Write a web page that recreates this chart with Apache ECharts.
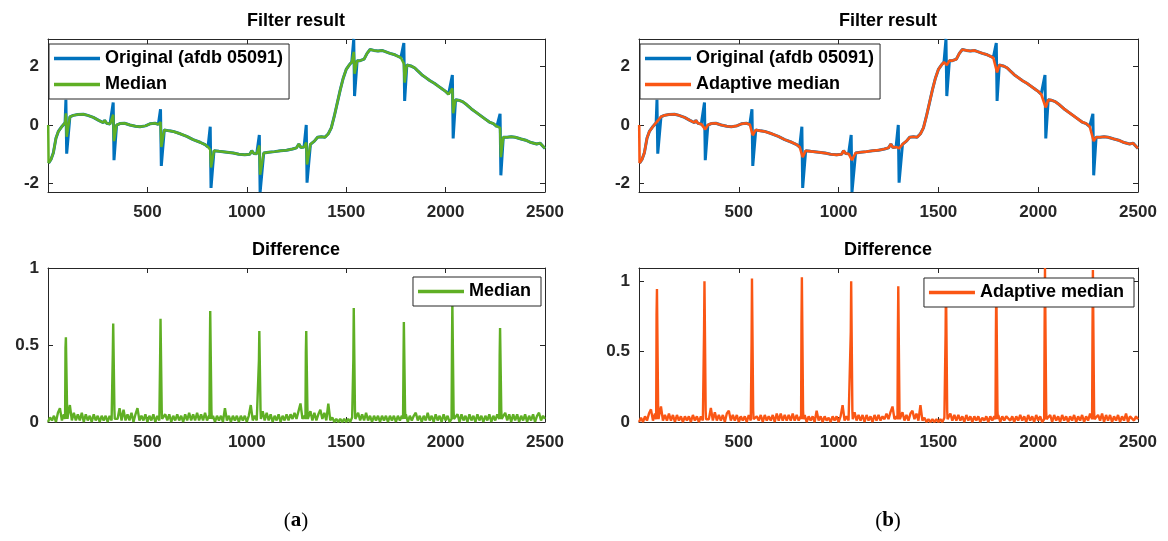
<!DOCTYPE html>
<html><head><meta charset="utf-8">
<script src="https://cdn.jsdelivr.net/npm/echarts@6/dist/echarts.min.js"></script>
<style>html,body{margin:0;padding:0;background:#fff}#c{width:1168px;height:541px}</style>
</head><body><div id="c"></div>
<script>
// ---------- DATA ----------
const xTicks = [500, 1000, 1500, 2000, 2500];
const yTicksTop = [-2, 0, 2];
const yTicksDiff = [0, 0.5, 1];

// R-peak sample positions
const rPeaks = [92, 330, 568, 818, 1065, 1301, 1540, 1792, 2036, 2276];

// baseline trend of the ECG (sample index, value)
const trendX = [3, 15, 27, 40, 52, 70, 86, 110, 127, 150, 178, 200, 228, 255, 278, 285, 295, 312,
  345, 362, 385, 412, 440, 463, 490, 513, 538, 555,
  585, 610, 630, 665, 698, 730, 765, 790, 805,
  835, 860, 900, 932, 960, 990, 1015, 1025, 1035, 1050,
  1085, 1110, 1140, 1170, 1200, 1230, 1250, 1262, 1272, 1288,
  1320, 1340, 1356, 1375, 1393, 1410, 1425, 1440, 1455, 1470, 1485, 1500, 1515, 1528,
  1555, 1570, 1590, 1605, 1620, 1640, 1660, 1680, 1700, 1720, 1745, 1760, 1775,
  1805, 1825, 1845, 1860, 1880, 1900, 1920, 1945, 1965, 1985, 2000, 2015,
  2050, 2065, 2085, 2105, 2130, 2150, 2176, 2200, 2220, 2240, 2258,
  2290, 2310, 2330, 2350, 2380, 2403, 2430, 2458, 2475, 2485, 2500];
const trendY = [-1.30, -1.18, -0.95, -0.45, -0.22, -0.05, 0.08, 0.28, 0.33, 0.36, 0.37, 0.33, 0.26, 0.16, 0.08, 0.16, 0.06, 0.03,
  0.00, 0.05, 0.06, 0.00, -0.04, -0.06, -0.03, 0.04, 0.06, 0.02,
  -0.17, -0.20, -0.22, -0.30, -0.39, -0.50, -0.59, -0.67, -0.75,
  -0.88, -0.90, -0.93, -0.96, -1.00, -1.02, -1.00, -0.88, -0.97, -0.98,
  -0.96, -0.93, -0.91, -0.88, -0.86, -0.82, -0.78, -0.65, -0.77, -0.75,
  -0.66, -0.55, -0.42, -0.40, -0.42, -0.30, -0.10, 0.30, 0.75, 1.20, 1.60, 1.90, 2.05, 2.15,
  2.20, 2.20, 2.25, 2.45, 2.58, 2.55, 2.53, 2.55, 2.50, 2.45, 2.40, 2.35, 2.30,
  2.05, 2.02, 1.95, 1.85, 1.72, 1.62, 1.52, 1.42, 1.32, 1.22, 1.15, 1.05,
  0.86, 0.85, 0.80, 0.70, 0.55, 0.45, 0.32, 0.20, 0.10, 0.05, -0.05,
  -0.42, -0.42, -0.40, -0.42, -0.48, -0.52, -0.60, -0.65, -0.62, -0.65, -0.80];
const filterStartY = 0.0; // filtered outputs start at 0 on sample 1

// spike extremes at each R-peak
const origHigh = [0.86, 0.77, 0.54, -0.06, -0.34, 0.00, 2.94, 2.80, 1.71, 0.38];
const origLow  = [-0.98, -1.20, -1.40, -2.15, -2.29, -1.97, 0.99, 0.82, -0.46, -1.72];
const medHigh  = [0.40, 0.35, 0.10, -0.85, -0.70, -0.60, 2.50, 2.10, 1.25, -0.10];
const medLow   = [-0.40, -0.55, -0.75, -1.45, -1.70, -1.35, 1.75, 1.45, 0.40, -1.10];
const adaLow   = [0.02, -0.15, -0.35, -1.10, -1.20, -0.80, 2.05, 1.80, 0.60, -0.55];

// difference signals: background noise every 10 samples (0..2500)
const diffMedNoise = [
  0.00,0.03,0.01,0.04,0.00,0.06,0.09,0.01,0.05,0.01,
  0.04,0.11,0.01,0.06,0.01,0.05,0.01,0.06,0.00,0.05,
  0.01,0.04,0.00,0.05,0.01,0.04,0.00,0.04,0.01,0.04,
  0.00,0.04,0.01,0.04,0.01,0.02,0.09,0.01,0.08,0.01,
  0.05,0.01,0.06,0.00,0.05,0.09,0.01,0.04,0.01,0.05,
  0.00,0.04,0.01,0.05,0.00,0.04,0.01,0.05,0.01,0.05,
  0.01,0.05,0.00,0.04,0.01,0.05,0.01,0.04,0.00,0.05,
  0.01,0.06,0.01,0.05,0.01,0.06,0.01,0.05,0.01,0.06,
  0.01,0.04,0.01,0.04,0.00,0.04,0.01,0.04,0.00,0.09,
  0.01,0.04,0.00,0.04,0.01,0.04,0.00,0.04,0.01,0.04,
  0.00,0.04,0.11,0.01,0.04,0.01,0.04,0.01,0.07,0.01,
  0.06,0.01,0.05,0.00,0.04,0.01,0.05,0.00,0.04,0.01,
  0.05,0.01,0.05,0.02,0.06,0.02,0.07,0.12,0.02,0.04,
  0.04,0.01,0.07,0.01,0.06,0.01,0.05,0.08,0.02,0.06,
  0.01,0.12,0.01,0.03,0.00,0.02,0.00,0.02,0.00,0.02,
  0.00,0.02,0.00,0.03,0.00,0.02,0.06,0.01,0.05,0.01,
  0.06,0.01,0.04,0.00,0.04,0.01,0.04,0.00,0.04,0.01,
  0.04,0.00,0.04,0.01,0.04,0.00,0.04,0.01,0.04,0.01,
  0.05,0.00,0.04,0.01,0.04,0.06,0.01,0.04,0.00,0.04,
  0.01,0.06,0.01,0.04,0.00,0.05,0.01,0.04,0.00,0.05,
  0.01,0.04,0.00,0.04,0.04,0.01,0.05,0.00,0.05,0.01,
  0.04,0.00,0.05,0.01,0.04,0.00,0.05,0.01,0.04,0.00,
  0.04,0.01,0.05,0.00,0.04,0.01,0.05,0.01,0.04,0.01,
  0.06,0.01,0.05,0.00,0.05,0.01,0.05,0.00,0.04,0.01,
  0.05,0.00,0.04,0.01,0.05,0.00,0.04,0.06,0.01,0.04,
  0.02];
const diffAdaNoise = [
  0.00,0.03,0.00,0.04,0.01,0.06,0.09,0.01,0.06,0.01,
  0.04,0.11,0.01,0.05,0.01,0.06,0.01,0.05,0.00,0.05,
  0.01,0.04,0.00,0.04,0.01,0.04,0.00,0.05,0.01,0.04,
  0.00,0.04,0.01,0.03,0.01,0.02,0.10,0.01,0.07,0.01,
  0.05,0.01,0.05,0.00,0.06,0.08,0.01,0.05,0.01,0.05,
  0.00,0.04,0.01,0.04,0.00,0.05,0.01,0.05,0.01,0.04,
  0.01,0.05,0.00,0.05,0.01,0.04,0.01,0.05,0.00,0.06,
  0.01,0.06,0.01,0.05,0.01,0.05,0.01,0.06,0.01,0.05,
  0.01,0.04,0.01,0.05,0.00,0.04,0.01,0.04,0.00,0.08,
  0.01,0.04,0.00,0.04,0.01,0.03,0.00,0.04,0.01,0.04,
  0.00,0.04,0.12,0.01,0.04,0.01,0.04,0.01,0.07,0.01,
  0.05,0.01,0.05,0.00,0.05,0.01,0.04,0.00,0.05,0.01,
  0.05,0.01,0.04,0.02,0.06,0.02,0.07,0.11,0.02,0.04,
  0.05,0.01,0.07,0.01,0.05,0.01,0.06,0.08,0.02,0.06,
  0.01,0.12,0.01,0.03,0.00,0.02,0.00,0.02,0.00,0.02,
  0.00,0.02,0.00,0.03,0.00,0.02,0.06,0.01,0.05,0.01,
  0.05,0.01,0.04,0.00,0.05,0.01,0.04,0.00,0.04,0.01,
  0.04,0.00,0.03,0.01,0.04,0.00,0.04,0.01,0.04,0.01,
  0.05,0.00,0.04,0.01,0.04,0.05,0.01,0.04,0.00,0.04,
  0.01,0.05,0.01,0.04,0.00,0.05,0.01,0.04,0.00,0.05,
  0.01,0.04,0.00,0.04,0.04,0.01,0.05,0.00,0.05,0.01,
  0.04,0.00,0.05,0.01,0.04,0.00,0.04,0.01,0.05,0.00,
  0.04,0.01,0.05,0.00,0.04,0.01,0.06,0.01,0.04,0.01,
  0.05,0.01,0.06,0.00,0.05,0.01,0.05,0.00,0.04,0.01,
  0.05,0.00,0.04,0.01,0.06,0.00,0.04,0.05,0.01,0.04,
  0.02];
const noiseStep = 10;
const diffMedPeak     = [0.55, 0.64, 0.67, 0.72, 0.59, 0.59, 0.74, 0.65, 0.78, 0.61];
const diffMedShoulder = [0.48, 0.45, 0.41, 0.43, 0.40, 0.45, 0.41, 0.35, 0.47, 0.43];
const diffAdaPeak     = [0.945, 1.00, 1.02, 1.03, 1.00, 0.965, 1.00, 1.00, 1.095, 1.08];
const diffAdaShoulder = [0.76, 0.66, 0.56, 0.70, 0.64, 0.62, 0.63, 0.61, 0.66, 0.63];

// ---------- BUILD SERIES ----------
function signal(startY, hi, lo) {
  const pts = trendX.map((x, i) => [x, trendY[i]]);
  if (startY !== null) pts.push([1, startY]);
  rPeaks.forEach((r, i) => {
    if (hi) pts.push([r - 2, hi[i]]);
    pts.push([r + 2, lo[i]]);
  });
  return pts.sort((a, b) => a[0] - b[0]);
}
function diffSig(noise, peak, shoulder) {
  const pts = [];
  noise.forEach((v, i) => {
    const x = i * noiseStep;
    if (!rPeaks.some(r => Math.abs(r - x) < 8)) pts.push([x, v]);
  });
  rPeaks.forEach((r, i) => {
    pts.push([r - 6, 0.02]); pts.push([r - 4, shoulder[i]]); pts.push([r - 2, peak[i]]);
    pts.push([r + 2, peak[i]]); pts.push([r + 4, 0.08]); pts.push([r + 6, 0.02]);
  });
  return pts.sort((a, b) => a[0] - b[0]);
}

const BLUE = '#0072BD', GREEN = '#5FAF24', ORANGE = '#FA5614';
const AX = '#262626';
const FONT = 'Liberation Sans, Arial, sans-serif';

const grids = [
  { left: 48, top: 39, width: 497, height: 153 },
  { left: 48, top: 268, width: 497, height: 154 },
  { left: 639, top: 39, width: 499, height: 153 },
  { left: 639, top: 268, width: 499, height: 154 }
];
const yRanges = [[-2.29, 2.94, yTicksTop], [0, 1, yTicksDiff], [-2.29, 2.94, yTicksTop], [0, 1.095, yTicksDiff]];

const xAxes = [], yAxes = [];
grids.forEach((g, gi) => {
  ['bottom', 'top'].forEach(pos => {
    xAxes.push({
      gridIndex: gi, type: 'value', min: 0, max: 2500, position: pos,
      axisLine: { show: true, onZero: false, lineStyle: { color: AX, width: 1 } },
      axisTick: { show: true, inside: true, length: 5, customValues: xTicks, lineStyle: { color: AX } },
      axisLabel: { show: pos === 'bottom', customValues: xTicks, formatter: v => String(v), margin: 12,
        color: AX, fontSize: 17, fontWeight: 'bold', fontFamily: FONT },
      splitLine: { show: false }
    });
  });
  const [mn, mx, tk] = yRanges[gi];
  ['left', 'right'].forEach(pos => {
    yAxes.push({
      gridIndex: gi, type: 'value', min: mn, max: mx, position: pos,
      axisLine: { show: true, onZero: false, lineStyle: { color: AX, width: 1 } },
      axisTick: { show: true, inside: true, length: 5, customValues: tk, lineStyle: { color: AX } },
      axisLabel: { show: pos === 'left', customValues: tk, formatter: v => String(v), margin: 9,
        color: AX, fontSize: 17, fontWeight: 'bold', fontFamily: FONT },
      splitLine: { show: false }
    });
  });
});

function line(name, gi, data, color, width) {
  return { name, type: 'line', xAxisIndex: gi * 2, yAxisIndex: gi * 2, data, color,
    showSymbol: false, symbol: 'none', lineStyle: { color, width }, animation: false, clip: true };
}

const series = [
  line('Original (afdb 05091)', 0, signal(null, origHigh, origLow), BLUE, 3),
  line('Median', 0, signal(filterStartY, medHigh, medLow), GREEN, 2.5),
  line('Median', 1, diffSig(diffMedNoise, diffMedPeak, diffMedShoulder), GREEN, 2.4),
  line('Original (afdb 05091)', 2, signal(null, origHigh, origLow), BLUE, 3),
  line('Adaptive median', 2, signal(filterStartY, null, adaLow), ORANGE, 2.6),
  line('Adaptive median', 3, diffSig(diffAdaNoise, diffAdaPeak, diffAdaShoulder), ORANGE, 2.4)
];

function legend(data, pos, padRight) {
  return Object.assign({
    data, orient: 'vertical', icon: 'rect', itemWidth: 46, itemHeight: 3.5, itemGap: 7,
    selectedMode: false, backgroundColor: '#fff', borderColor: AX, borderWidth: 1,
    padding: [5, padRight, 5, 5],
    textStyle: { fontSize: 18, fontWeight: 'bold', color: '#000', fontFamily: FONT, lineHeight: 19 }
  }, pos);
}

function txt(text, x, y, size) {
  return { type: 'text', x, y, style: { text, textAlign: 'center', textVerticalAlign: 'middle',
    font: 'bold ' + size + 'px ' + FONT, fill: '#000' } };
}
function caption(letter, x, y) {
  return { type: 'text', x, y, style: { text: '{p|(}{b|' + letter + '}{p|)}', textAlign: 'center', textVerticalAlign: 'middle',
    rich: { p: { fontFamily: 'Liberation Serif, serif', fontSize: 21, fill: '#000' },
            b: { fontFamily: 'Liberation Serif, serif', fontSize: 21, fontWeight: 'bold', fill: '#000' } } } };
}

const chart = echarts.init(document.getElementById('c'), null, { renderer: 'canvas' });
chart.setOption({
  animation: false,
  backgroundColor: '#fff',
  grid: grids,
  xAxis: xAxes,
  yAxis: yAxes,
  legend: [
    legend(['Original (afdb 05091)', 'Median'], { left: 49, top: 44 }, 6),
    legend(['Median'], { right: 1168 - 541, top: 277 }, 10),
    legend(['Original (afdb 05091)', 'Adaptive median'], { left: 640, top: 44 }, 6),
    legend(['Adaptive median'], { right: 1168 - 1134, top: 278 }, 10)
  ],
  series,
  graphic: [
    txt('Filter result', 296, 21, 18),
    txt('Filter result', 888, 21, 18),
    txt('Difference', 296, 250, 18),
    txt('Difference', 888, 250, 18),
    caption('a', 296, 521),
    caption('b', 888, 521)
  ]
});
</script></body></html>
